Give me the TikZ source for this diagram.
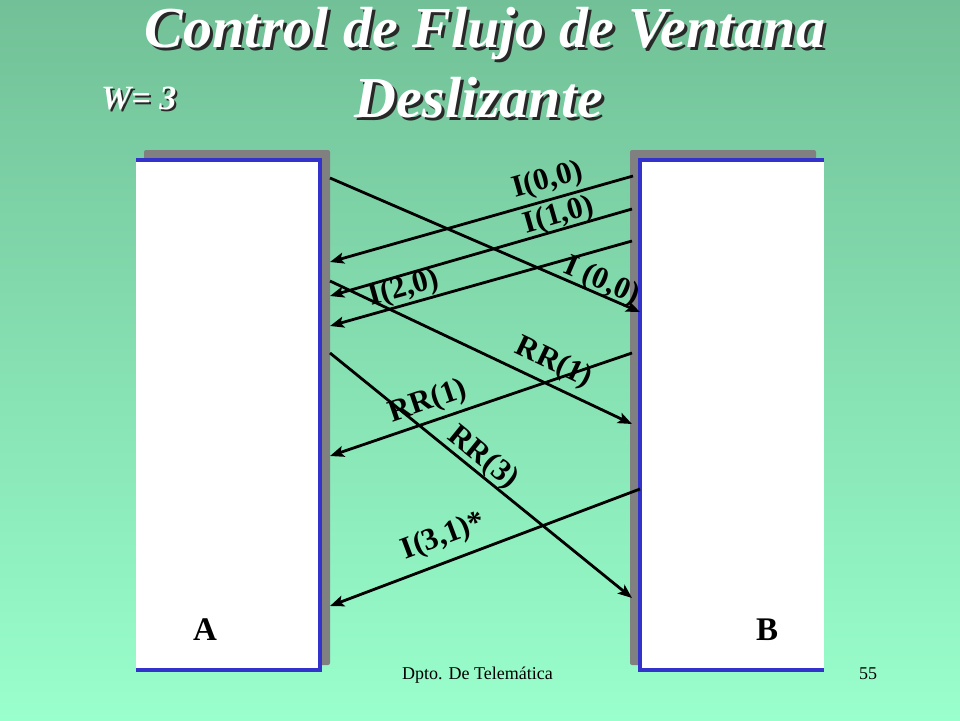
\documentclass[tikz,border=0pt]{standalone}
\usepackage{fontspec}
\setmainfont{Liberation Serif}
\usetikzlibrary{arrows.meta}
\definecolor{bgtop}{RGB}{114,192,151}
\definecolor{bgbot}{RGB}{153,255,204}
\definecolor{boxblue}{RGB}{51,51,204}
\definecolor{shadowgray}{RGB}{128,128,128}
\definecolor{txtshadow}{RGB}{40,40,40}
\begin{document}
\begin{tikzpicture}[x=1pt,y=-1pt,
  msg/.style={line width=2.8pt, black},
  tipr/.style={-{Stealth[length=14pt,width=11pt,inset=3pt]}},
  tipl/.style={{Stealth[length=14pt,width=11pt,inset=3pt]}-},
  lbl/.style={font=\bfseries\fontsize{31}{31}\selectfont, sloped, inner sep=0pt},
  titlefont/.style={font=\bfseries\itshape\fontsize{58}{58}\selectfont, inner sep=0pt, anchor=base},
  wfont/.style={font=\bfseries\itshape\fontsize{34}{34}\selectfont, inner sep=0pt, anchor=base west},
  hostlbl/.style={font=\bfseries\fontsize{33}{33}\selectfont, inner sep=0pt, anchor=base},
  foot/.style={font=\fontsize{18}{18}\selectfont, inner sep=0pt, anchor=base west},
  hostbox/.style={fill=white, inner sep=0pt, minimum width=184pt, minimum height=510pt, anchor=north west},
  border/.style={boxblue, line width=4pt, line join=miter}]
\shade[top color=bgtop, bottom color=bgbot] (0,0) rectangle (960,720);
\useasboundingbox (0,0) rectangle (960,720);

% title
\node[titlefont, text=txtshadow] (t1s) at (488,50) {Control de Flujo de Ventana};
\node[titlefont, text=white] (t1) at (485,47) {Control de Flujo de Ventana};
\node[titlefont, text=txtshadow] (t2s) at (482,120) {Deslizante};
\node[titlefont, text=white] (t2) at (479,117) {Deslizante};
\node[wfont, text=txtshadow] (ws) at (103,111) {W= 3};
\node[wfont, text=white] (w) at (101,109) {W= 3};

% host A
\fill[shadowgray, rounded corners=2pt] (144,150) rectangle (330,665);
\node[hostbox] (boxA) at (136,160) {};
\draw[border] (136,160) -- (320,160) -- (320,670) -- (136,670);
\node[hostlbl] (A) at (205,640) {A};

% host B
\fill[shadowgray, rounded corners=2pt] (630,150) rectangle (816,665);
\node[hostbox] (boxB) at (640,160) {};
\draw[border] (824,160) -- (640,160) -- (640,670) -- (824,670);
\node[hostlbl] (B) at (767,640) {B};

% endpoints
\coordinate (a1) at (330,178); \coordinate (b1) at (640,312);
\coordinate (a2) at (330,262); \coordinate (b2) at (633,176);
\coordinate (a3) at (330,296); \coordinate (b3) at (632,209);
\coordinate (a4) at (330,326); \coordinate (b4) at (632,241);
\coordinate (a5) at (330,281); \coordinate (b5) at (632,424);
\coordinate (a6) at (330,456); \coordinate (b6) at (632,353);
\coordinate (a7) at (330,353); \coordinate (b7) at (632,598);
\coordinate (a8) at (330,606); \coordinate (b8) at (640,489);

\draw[msg, tipr] (a1) -- node[lbl, pos=0.86, above=-3pt] {I (0,0)} (b1);
\draw[msg, tipl] (a2) -- node[lbl, pos=0.735, above=3pt] {I(0,0)} (b2);
\draw[msg, tipl] (a3) -- node[lbl, pos=0.77, above=-2pt] {I(1,0)} (b3);
\draw[msg, tipl] (a4) -- node[lbl, pos=0.26, above=0pt] {I(2,0)} (b4);
\draw[msg, tipr] (a5) -- node[lbl, pos=0.71, above=6pt] {RR(1)} (b5);
\draw[msg, tipl] (a6) -- node[lbl, pos=0.345, above=4pt] {RR(1)} (b6);
\draw[msg, tipr] (a7) -- node[lbl, pos=0.475, above=-1pt] {RR(3)} (b7);
\draw[msg, tipl] (a8) -- node[lbl, pos=0.395, above=9pt] {I(3,1)*} (b8);

% footer
\node[foot] (dept) at (402,679) {Dpto. De Telemática};
\node[foot] (page) at (859,679) {55};
\end{tikzpicture}
\end{document}
